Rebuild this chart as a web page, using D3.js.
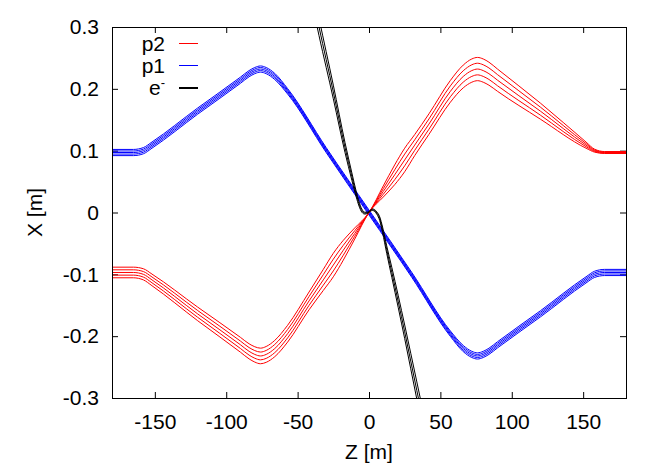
<!DOCTYPE html>
<html>
<head>
<meta charset="utf-8">
<title>Beam trajectories</title>
<script src="https://d3js.org/d3.v7.min.js"></script>
<style>
body { margin: 0; background: #fff; }
svg text { font-family: "Liberation Sans", Arial, sans-serif; font-size: 21px; fill: #000; }
.axis path { display: none; }
.axis line { stroke: #000; }
.traj { fill: none; stroke-width: 1; }
</style>
</head>
<body>
<script>
// ticks
var xTicks = [-150, -100, -50, 0, 50, 100, 150];
var yTicks = [-0.3, -0.2, -0.1, 0, 0.1, 0.2, 0.3];

// p1 (blue) - Z knots shared by the five tracks
var zBlue = [-180, -165, -158, -152, -120, -90, -84, -80, -76, -72, -66, -57, -30, 0, 30, 57, 66, 72, 76, 80, 84, 90, 120, 152, 158, 165, 180];
var blue1 = [0.102, 0.102, 0.105, 0.114, 0.169, 0.219, 0.2295, 0.2345, 0.237, 0.2345, 0.225, 0.2004, 0.105, 0.004, -0.097, -0.1916, -0.215, -0.2245, -0.227, -0.2245, -0.2195, -0.209, -0.159, -0.104, -0.095, -0.092, -0.092];
var blue2 = [0.0995, 0.0995, 0.1025, 0.1115, 0.1665, 0.2165, 0.227, 0.232, 0.2345, 0.232, 0.2225, 0.1982, 0.103, 0.002, -0.099, -0.1938, -0.2175, -0.227, -0.2295, -0.227, -0.222, -0.2115, -0.1615, -0.1065, -0.0975, -0.0945, -0.0945];
var blue3 = [0.097, 0.097, 0.100, 0.109, 0.164, 0.214, 0.2245, 0.2295, 0.232, 0.2295, 0.220, 0.196, 0.101, 0, -0.101, -0.196, -0.220, -0.2295, -0.232, -0.2295, -0.2245, -0.214, -0.164, -0.109, -0.100, -0.097, -0.097];
var blue4 = [0.0945, 0.0945, 0.0975, 0.1065, 0.1615, 0.2115, 0.222, 0.227, 0.2295, 0.227, 0.2175, 0.1938, 0.099, -0.002, -0.103, -0.1982, -0.2225, -0.232, -0.2345, -0.232, -0.227, -0.2165, -0.1665, -0.1115, -0.1025, -0.0995, -0.0995];
var blue5 = [0.092, 0.092, 0.095, 0.104, 0.159, 0.209, 0.2195, 0.2245, 0.227, 0.2245, 0.215, 0.1916, 0.097, -0.004, -0.105, -0.2004, -0.225, -0.2345, -0.237, -0.2345, -0.2295, -0.219, -0.169, -0.114, -0.105, -0.102, -0.102];

// p2 (red)
var zRed = [-180, -165, -158, -152, -120, -90, -84, -80, -76, -72, -66, -57, -42, -32, -25, -18, -10, 0, 10, 18, 25, 32, 42, 57, 66, 72, 76, 80, 84, 90, 120, 152, 158, 165, 180];
var red1 = [-0.0884, -0.0884, -0.091, -0.0996, -0.153, -0.202, -0.2123, -0.2171, -0.2194, -0.2167, -0.2068, -0.1824, -0.1286, -0.092, -0.066, -0.045, -0.025, 0, 0.043, 0.077, 0.104, 0.126, 0.1596, 0.2136, 0.2384, 0.2483, 0.2508, 0.2483, 0.2431, 0.232, 0.177, 0.114, 0.1024, 0.0986, 0.0986];
var red2 = [-0.0927, -0.0927, -0.0955, -0.1043, -0.1585, -0.208, -0.2184, -0.2233, -0.2257, -0.2231, -0.2134, -0.1892, -0.1358, -0.1005, -0.0755, -0.053, -0.0295, 0, 0.0385, 0.069, 0.0945, 0.1175, 0.1513, 0.2048, 0.2292, 0.2389, 0.2414, 0.2389, 0.2338, 0.223, 0.1705, 0.1115, 0.1012, 0.0978, 0.0978];
var red3 = [-0.097, -0.097, -0.100, -0.109, -0.164, -0.214, -0.2245, -0.2295, -0.232, -0.2295, -0.220, -0.196, -0.143, -0.109, -0.085, -0.061, -0.034, 0, 0.034, 0.061, 0.085, 0.109, 0.143, 0.196, 0.220, 0.2295, 0.232, 0.2295, 0.2245, 0.214, 0.164, 0.109, 0.100, 0.097, 0.097];
var red4 = [-0.1013, -0.1013, -0.1045, -0.1137, -0.1695, -0.220, -0.2306, -0.2357, -0.2383, -0.2359, -0.2266, -0.2028, -0.1502, -0.1175, -0.0945, -0.069, -0.0385, 0, 0.0295, 0.053, 0.0755, 0.1005, 0.1347, 0.1872, 0.2108, 0.2201, 0.2226, 0.2201, 0.2152, 0.205, 0.1575, 0.1065, 0.0988, 0.0962, 0.0962];
var red5 = [-0.1056, -0.1056, -0.109, -0.1184, -0.175, -0.226, -0.2367, -0.2419, -0.2446, -0.2423, -0.2332, -0.2096, -0.1574, -0.126, -0.104, -0.077, -0.043, 0, 0.025, 0.045, 0.066, 0.092, 0.1264, 0.1784, 0.2016, 0.2107, 0.2132, 0.2107, 0.2059, 0.196, 0.151, 0.104, 0.0976, 0.0954, 0.0954];

// e- (black)
var zElec = [-40, -35, -25, -16.8, -12, -9, -7, -5, -3, -1, 1, 2.5, 4, 5.5, 7.5, 9.5, 12.4, 16, 25, 33.5, 38];
var elec1 = [0.370, 0.314, 0.206, 0.113, 0.064, 0.0345, 0.0175, 0.0055, 0.0005, 0.0005, 0.004, 0.0057, 0.0045, 0.001, -0.007, -0.0235, -0.054, -0.089, -0.182, -0.274, -0.323];
var elec2 = [0.355, 0.300, 0.195, 0.105, 0.058, 0.030, 0.014, 0.003, -0.001, -0.0005, 0.003, 0.0045, 0.003, -0.001, -0.010, -0.028, -0.060, -0.097, -0.193, -0.288, -0.338];
var elec3 = [0.340, 0.286, 0.184, 0.097, 0.052, 0.0255, 0.0105, 0.0005, -0.0025, -0.0015, 0.002, 0.0033, 0.0015, -0.003, -0.013, -0.0325, -0.066, -0.105, -0.204, -0.302, -0.353];

var margin = { top: 27, right: 38, bottom: 67, left: 112 };
var width = 664 - margin.left - margin.right;
var height = 465 - margin.top - margin.bottom;

var root = d3.select("body").append("svg")
  .attr("width", 664)
  .attr("height", 465);

var svg = root.append("g")
  .attr("transform", "translate(" + margin.left + "," + margin.top + ")");

var x = d3.scaleLinear().domain([-180, 180]).range([0, width]);
var y = d3.scaleLinear().domain([-0.3, 0.3]).range([height, 0]);

svg.append("defs").append("clipPath").attr("id", "plotclip")
  .append("rect").attr("width", width).attr("height", height);

// axes, ticks pointing inward on all four sides
svg.append("g").attr("class", "axis")
  .attr("transform", "translate(0," + height + ")")
  .call(d3.axisBottom(x).tickValues(xTicks).tickSizeInner(-6).tickSizeOuter(0)
    .tickPadding(16).tickFormat(function(d) { return String(d); }));

svg.append("g").attr("class", "axis")
  .call(d3.axisTop(x).tickValues(xTicks).tickSizeInner(-6).tickSizeOuter(0).tickFormat(""));

svg.append("g").attr("class", "axis")
  .call(d3.axisLeft(y).tickValues(yTicks).tickSizeInner(-6).tickSizeOuter(0)
    .tickPadding(13).tickFormat(function(d) { return d === 0 ? "0" : d.toFixed(1); }));

svg.append("g").attr("class", "axis")
  .attr("transform", "translate(" + width + ",0)")
  .call(d3.axisRight(y).tickValues(yTicks).tickSizeInner(-6).tickSizeOuter(0).tickFormat(""));

var line = d3.line()
  .x(function(d) { return x(d[0]); })
  .y(function(d) { return y(d[1]); })
  .curve(d3.curveMonotoneX);

function zip(zs, xs) {
  return zs.map(function(z, i) { return [z, xs[i]]; });
}

var tracks = svg.append("g").attr("clip-path", "url(#plotclip)");

[blue1, blue2, blue3, blue4, blue5].forEach(function(s) {
  tracks.append("path").attr("class", "traj")
    .attr("stroke", "#0000ff")
    .attr("d", line(zip(zBlue, s)));
});

[red1, red2, red3, red4, red5].forEach(function(s) {
  tracks.append("path").attr("class", "traj")
    .attr("stroke", "#ff0000")
    .attr("d", line(zip(zRed, s)));
});

[elec1, elec2, elec3].forEach(function(s) {
  tracks.append("path").attr("class", "traj")
    .attr("stroke", "#000000")
    .attr("d", line(zip(zElec, s)));
});

// frame
svg.append("rect")
  .attr("x", 0.5).attr("y", 0.5)
  .attr("width", width).attr("height", height)
  .attr("fill", "none").attr("stroke", "#000");

// legend
var legend = [
  { label: "p2", color: "#ff0000", w: 1, y: 43.5 },
  { label: "p1", color: "#0000ff", w: 1, y: 65.5 },
  { label: "e", color: "#000000", w: 2, y: 88 }
];

var lg = root.selectAll(".legend")
  .data(legend)
  .enter().append("g")
  .attr("class", "legend")
  .attr("transform", function(d) { return "translate(0," + d.y + ")"; });

lg.append("line")
  .attr("x1", 179).attr("x2", 198)
  .attr("stroke", function(d) { return d.color; })
  .attr("stroke-width", function(d) { return d.w; });

var lt = lg.append("text")
  .attr("x", 165)
  .attr("dy", "0.35em")
  .style("text-anchor", "end")
  .text(function(d) { return d.label; });

lt.filter(function(d) { return d.label === "e"; })
  .append("tspan")
  .attr("dy", -8)
  .style("font-size", "13px")
  .text("-");

// axis titles
root.append("text")
  .attr("x", margin.left + width / 2)
  .attr("y", 459)
  .style("text-anchor", "middle")
  .text("Z [m]");

root.append("text")
  .attr("transform", "translate(42," + (margin.top + height / 2) + ") rotate(-90)")
  .style("text-anchor", "middle")
  .text("X [m]");
</script>
</body>
</html>
